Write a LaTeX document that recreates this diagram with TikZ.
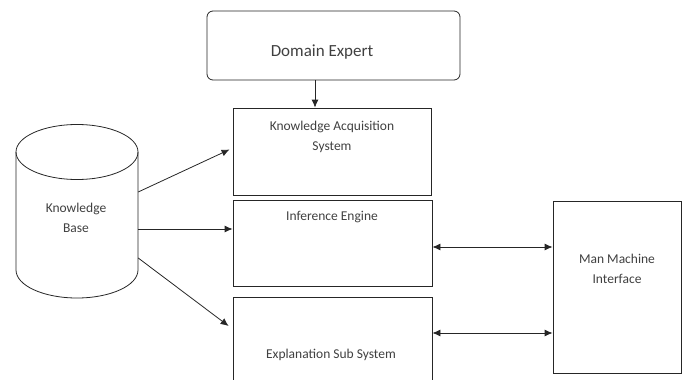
\documentclass[tikz,border=0pt]{standalone}
\usepackage{fontspec}
\setmainfont{Carlito}
\usetikzlibrary{arrows.meta}

\begin{document}
\begin{tikzpicture}[x=1pt,y=-1pt,
  box/.style={draw=black!85,line width=0.8pt,inner sep=0pt},
  txt/.style={text=black!75,align=center,inner sep=0pt,font=\fontsize{13.5}{20.5}\selectfont},
  arr/.style={draw=black!85,line width=0.8pt,-{Latex[length=8pt,width=7pt]}},
  dbl/.style={draw=black!85,line width=0.8pt,{Latex[length=8pt,width=7pt]}-{Latex[length=8pt,width=7pt]}}]
\clip (0,0) rectangle (686,380);
% boxes
\node[box,rounded corners=6pt,minimum width=253pt,minimum height=69pt] (expert) at (333.5,45.5) {};
\node[box,minimum width=198pt,minimum height=87pt] (kas) at (332,151.5) {};
\node[box,minimum width=199pt,minimum height=86pt] (ie) at (332.5,243) {};
\node[box,minimum width=199pt,minimum height=100pt] (es) at (332.5,347) {};
\node[box,minimum width=128pt,minimum height=172pt] (mmi) at (617,287) {};
% knowledge base cylinder
\draw[draw=black!85,line width=0.8pt] (16,152) -- (16,270) arc[start angle=180,end angle=0,x radius=61,y radius=28] -- (138,152);
\draw[draw=black!85,line width=0.8pt] (77,152) ellipse [x radius=61,y radius=27.5];
\node[inner sep=0pt,minimum width=122pt,minimum height=118pt] (kb) at (77,211) {};
% texts
\node[txt,font=\fontsize{17}{20}\selectfont] (expertlbl) at (322,52) {Domain Expert};
\node[txt] (kaslbl) at (332,137) {Knowledge Acquisition\\System};
\node[txt] (ielbl) at (332,217) {Inference Engine};
\node[txt] (eslbl) at (331,355) {Explanation Sub System};
\node[txt] (mmilbl) at (617,269) {Man Machine\\Interface};
\node[txt] (kblbl) at (76,218) {Knowledge\\Base};
% connectors
\draw[arr] ([xshift=-17pt]kas.north |- expert.south) -- ([xshift=-17pt]kas.north);
\draw[arr] ([yshift=19pt]kb.east) -- ([xshift=-3pt,yshift=2pt]kas.west);
\draw[arr] ([yshift=-18pt]kb.east) -- ([yshift=14pt]ie.west);
\draw[arr] ([yshift=-47pt]kb.east) -- ([xshift=-4pt,yshift=21pt]es.west);
\draw[dbl] ([yshift=-4pt]ie.east) -- ([yshift=-4pt]ie.east -| mmi.west);
\draw[dbl] ([yshift=14pt]es.east) -- ([yshift=14pt]es.east -| mmi.west);
\end{tikzpicture}
\end{document}
